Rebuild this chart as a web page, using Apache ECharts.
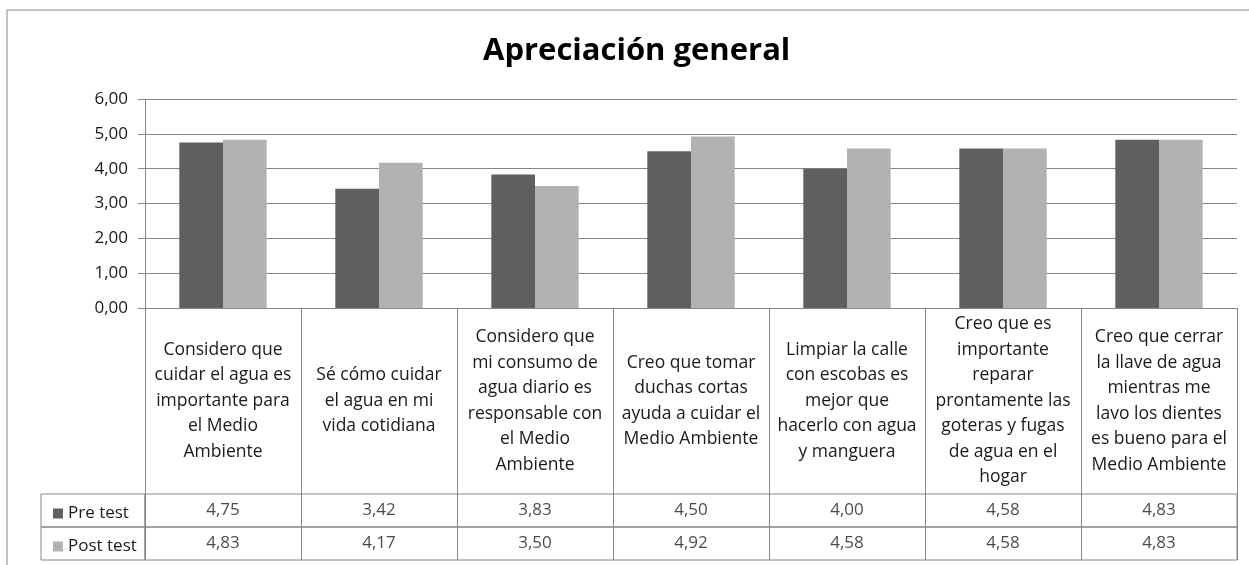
<!DOCTYPE html>
<html>
<head>
<meta charset="utf-8">
<script src="https://cdn.jsdelivr.net/npm/echarts@6/dist/echarts.min.js"></script>
<style>
  html, body { margin: 0; padding: 0; background: #fff; }
  #chart { width: 1249px; height: 565px; }
</style>
</head>
<body>
<div id="chart"></div>
<script>
// datos
var categorias = [
  'Considero que\ncuidar el agua es\nimportante para\nel Medio\nAmbiente',
  'Sé cómo cuidar\nel agua en mi\nvida cotidiana',
  'Considero que\nmi consumo de\nagua diario es\nresponsable con\nel Medio\nAmbiente',
  'Creo que tomar\nduchas cortas\nayuda a cuidar el\nMedio Ambiente',
  'Limpiar la calle\ncon escobas es\nmejor que\nhacerlo con agua\ny manguera',
  'Creo que es\nimportante\nreparar\nprontamente las\ngoteras y fugas\nde agua en el\nhogar',
  'Creo que cerrar\nla llave de agua\nmientras me\nlavo los dientes\nes bueno para el\nMedio Ambiente'
];
var preTest = [4.75, 3.42, 3.83, 4.50, 4.00, 4.58, 4.83];
var postTest = [4.83, 4.17, 3.50, 4.92, 4.58, 4.58, 4.83];

var fuente = 'Open Sans';
var gris = '#868686';
var texto = '#1a1a1a';

function coma(v) {
  return Number(v).toFixed(2).replace('.', ',');
}

document.addEventListener('DOMContentLoaded', function () {
  var chart = echarts.init(document.getElementById('chart'));

  var option = {
    animation: false,
    textStyle: { fontFamily: fuente, color: texto },
    title: {
      text: 'Apreciación general',
      left: 478,
      top: 31,
      textStyle: { fontFamily: fuente, fontSize: 31, fontWeight: 'bold', color: '#000' }
    },
    graphic: [{
      type: 'rect',
      shape: { x: 7, y: 10, width: 1300, height: 620 },
      style: { fill: 'none', stroke: gris, lineWidth: 1 },
      silent: true
    }],
    legend: [
      {
        data: ['Pre test'], left: 48, top: 500, itemWidth: 10, itemHeight: 10,
        icon: 'rect', textStyle: { fontFamily: fuente, fontSize: 17, color: texto }
      },
      {
        data: ['Post test'], left: 48, top: 533, itemWidth: 10, itemHeight: 10,
        icon: 'rect', textStyle: { fontFamily: fuente, fontSize: 17, color: texto }
      }
    ],
    grid: [
      { left: 145, right: 12, top: 99, height: 209 },
      { left: 145, right: 12, top: 494, height: 33, show: true, borderColor: gris, borderWidth: 1 },
      { left: 145, right: 12, top: 527, height: 33, show: true, borderColor: gris, borderWidth: 1 },
      { left: 41, width: 104, top: 494, height: 33, show: true, borderColor: gris, borderWidth: 1 },
      { left: 41, width: 104, top: 527, height: 33, show: true, borderColor: gris, borderWidth: 1 }
    ],
    xAxis: [
      {
        gridIndex: 0,
        type: 'category',
        data: categorias,
        axisLine: { lineStyle: { color: gris } },
        axisTick: { show: true, length: 252, lineStyle: { color: gris } },
        axisLabel: {
          interval: 0,
          margin: 93,
          verticalAlign: 'middle',
          align: 'center',
          lineHeight: 25.5,
          fontSize: 17.5,
          fontFamily: fuente,
          color: texto
        }
      },
      { gridIndex: 1, type: 'category', data: categorias, show: false },
      { gridIndex: 2, type: 'category', data: categorias, show: false }
    ],
    yAxis: [
      {
        gridIndex: 0,
        type: 'value',
        min: 0,
        max: 6,
        interval: 1,
        axisLine: { show: true, lineStyle: { color: gris } },
        axisTick: { show: true, length: 7, lineStyle: { color: gris } },
        splitLine: { lineStyle: { color: gris } },
        axisLabel: {
          margin: 17,
          fontSize: 17,
          fontFamily: fuente,
          color: texto,
          formatter: coma
        }
      },
      { gridIndex: 1, type: 'category', data: ['Pre test'], show: false },
      { gridIndex: 2, type: 'category', data: ['Post test'], show: false }
    ],
    series: [
      {
        name: 'Pre test',
        type: 'bar',
        data: preTest,
        barGap: 0,
        barCategoryGap: '44%',
        itemStyle: { color: '#5f5f5f' }
      },
      {
        name: 'Post test',
        type: 'bar',
        data: postTest,
        barGap: 0,
        barCategoryGap: '44%',
        itemStyle: { color: '#b2b2b2' }
      },
      {
        name: 'Tabla pre',
        type: 'scatter',
        xAxisIndex: 1,
        yAxisIndex: 1,
        symbolSize: 1,
        itemStyle: { color: 'rgba(0,0,0,0)' },
        data: preTest.map(function (v, i) { return [i, 0, v]; }),
        label: {
          show: true,
          position: 'inside',
          fontSize: 17,
          fontFamily: fuente,
          color: texto,
          formatter: function (p) { return coma(p.value[2]); }
        }
      },
      {
        name: 'Tabla post',
        type: 'scatter',
        xAxisIndex: 2,
        yAxisIndex: 2,
        symbolSize: 1,
        itemStyle: { color: 'rgba(0,0,0,0)' },
        data: postTest.map(function (v, i) { return [i, 0, v]; }),
        label: {
          show: true,
          position: 'inside',
          fontSize: 17,
          fontFamily: fuente,
          color: texto,
          formatter: function (p) { return coma(p.value[2]); }
        }
      }
    ]
  };

  chart.setOption(option);
});
</script>
</body>
</html>
